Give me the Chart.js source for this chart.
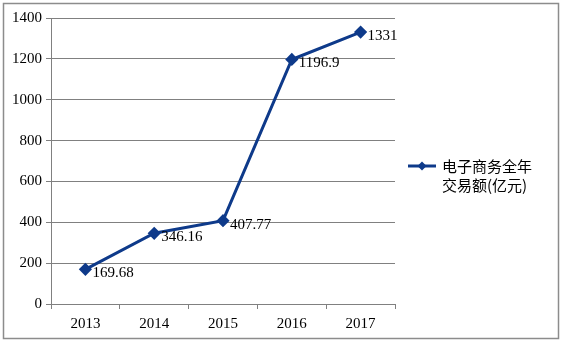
<!DOCTYPE html>
<html>
<head>
<meta charset="utf-8">
<script src="https://cdn.jsdelivr.net/npm/chart.js@4"></script>
<style>
  html, body { margin: 0; padding: 0; background: #fff; }
  #wrap { width: 562px; height: 343px; position: relative; }
</style>
</head>
<body>
<div id="wrap"><canvas id="chart" width="562" height="343"></canvas></div>
<script>
const years = ['2013', '2014', '2015', '2016', '2017'];
const volume = [169.68, 346.16, 407.77, 1196.9, 1331];
const valueLabels = ['169.68', '346.16', '407.77', '1196.9', '1331'];
const legendLines = ['电子商务全年', '交易额(亿元)'];

const lineColor = '#0E3A8A';
const gridColor = '#808080';
const serif = 'Liberation Serif, serif';

Chart.defaults.font.family = serif;
Chart.defaults.font.size = 15;
Chart.defaults.color = '#000';

// frame, value labels and the two-line legend
const extras = {
    id: 'extras',
    beforeDraw(chart) {
        const ctx = chart.ctx;
        ctx.save();
        ctx.fillStyle = '#fff';
        ctx.fillRect(0, 0, chart.width, chart.height);
        ctx.strokeStyle = '#8c8c8c';
        ctx.lineWidth = 1.5;
        ctx.strokeRect(3.5, 3.5, 555, 335);
        ctx.restore();
    },
    afterDatasetsDraw(chart) {
        const ctx = chart.ctx;
        const meta = chart.getDatasetMeta(0);
        ctx.save();
        ctx.font = '15px ' + serif;
        ctx.fillStyle = '#000';
        ctx.textBaseline = 'middle';
        meta.data.forEach(function (pt, i) {
            ctx.fillText(valueLabels[i], pt.x + 7, pt.y + 4);
        });

        // legend
        const lx = 408, ly = 166;
        ctx.strokeStyle = lineColor;
        ctx.lineWidth = 3;
        ctx.beginPath();
        ctx.moveTo(lx, ly);
        ctx.lineTo(lx + 28, ly);
        ctx.stroke();
        ctx.fillStyle = lineColor;
        ctx.beginPath();
        ctx.moveTo(lx + 14, ly - 4.5);
        ctx.lineTo(lx + 18.5, ly);
        ctx.lineTo(lx + 14, ly + 4.5);
        ctx.lineTo(lx + 9.5, ly);
        ctx.closePath();
        ctx.fill();
        ctx.fillStyle = '#000';
        ctx.font = '15px "Noto Sans CJK SC", sans-serif';
        ctx.fillText(legendLines[0], lx + 34, ly);
        ctx.fillText(legendLines[1], lx + 34, ly + 19);
        ctx.restore();
    }
};

new Chart(document.getElementById('chart').getContext('2d'), {
    type: 'line',
    data: {
        labels: years,
        datasets: [{
            data: volume,
            borderColor: lineColor,
            backgroundColor: lineColor,
            borderWidth: 3,
            pointStyle: 'rectRot',
            pointRadius: 4.5,
            pointHoverRadius: 4.5,
            tension: 0,
            fill: false
        }]
    },
    options: {
        responsive: false,
        animation: false,
        events: [],
        layout: { padding: { left: 0, right: 167, top: 18, bottom: 0 } },
        plugins: { legend: { display: false }, tooltip: { enabled: false } },
        scales: {
            x: {
                offset: true,
                grid: {
                    offset: true,
                    drawOnChartArea: false,
                    drawTicks: true,
                    tickLength: 5,
                    color: gridColor
                },
                border: { display: true, color: gridColor, width: 1 },
                ticks: { color: '#000', font: { family: serif, size: 15 }, padding: 6, maxRotation: 0 },
                afterFit(scale) { scale.height = 39; }
            },
            y: {
                min: 0,
                max: 1400,
                grid: { color: gridColor, tickLength: 5, lineWidth: 1 },
                border: { display: true, color: gridColor, width: 1 },
                ticks: {
                    stepSize: 200,
                    color: '#000',
                    font: { family: serif, size: 15 },
                    padding: 4,
                    callback: function (v) { return String(v); }
                },
                afterFit(scale) { scale.width = 51; }
            }
        }
    },
    plugins: [extras]
});
</script>
</body>
</html>
